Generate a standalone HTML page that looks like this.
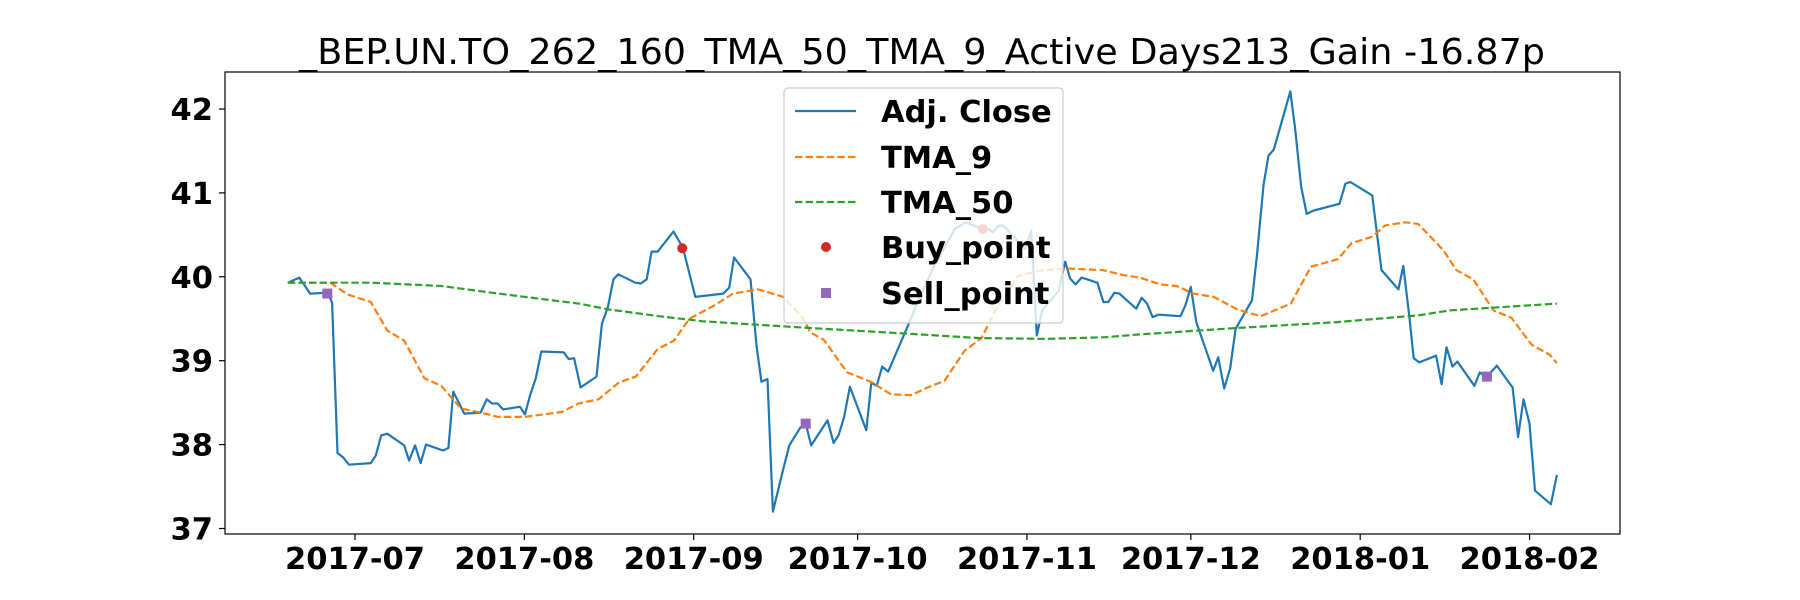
<!DOCTYPE html>
<html><head><meta charset="utf-8"><style>
html,body{margin:0;padding:0;background:#fff;}
svg{display:block;font-family:"DejaVu Sans","Liberation Sans",sans-serif;}
</style></head><body>
<svg id="chart" width="1800" height="600" viewBox="0 0 1800 600" xmlns="http://www.w3.org/2000/svg">
<rect width="1800" height="600" fill="#fff"/>
<text x="922" y="64" font-size="36" text-anchor="middle" textLength="1246" lengthAdjust="spacingAndGlyphs">_BEP.UN.TO_262_160_TMA_50_TMA_9_Active Days213_Gain -16.87p</text>
<g id="plot"></g>
</svg>
<script>
// Day offsets are counted from 2017-07-01
const closeDays = [-12.3,-10.2,-8.2,-5,-4.2,-3.2,-2.2,-1.1,2.9,3.8,4.8,5.9,9.0,9.9,11.0,12.0,13.0,16.1,17.1,18.0,20.0,23.0,24.1,25.1,26.1,27.1,30.2,31.1,32.1,33.1,34.1,38.2,39.1,40.1,41.3,44.2,45.2,46.3,47.3,48.2,51.3,52.3,53.4,54.3,55.4,58.3,60.0,62.3,67.4,68.5,69.4,72.4,73.5,74.4,75.5,76.5,78.4,79.5,81.5,82.5,83.5,86.5,87.6,88.5,89.5,90.6,93.6,94.5,95.5,96.5,97.6,101.5,103,106,109.8,111.8,114.9,115.9,116.8,117.8,118.7,122.7,123.8,124.8,125.8,128.8,130.0,130.9,131.9,133.0,135.9,137.0,137.9,139.0,139.9,143.0,144.0,145.0,146.0,147.1,151.1,152.0,153.0,154.0,157.1,158.0,159.1,160.2,161.2,164.2,165.1,166.3,167.2,168.2,171.2,172.1,173.2,174.2,175.5,180.2,181.3,182.2,186.2,187.9,191.0,191.9,193.0,193.8,194.8,197.9,198.9,199.8,200.9,201.8,204.9,205.9,207.2,209.0,211.9,212.9,213.9,215.0,216.0,218.9,220.0];
const closeVals = [39.93,39.99,39.80,39.81,39.69,37.90,37.85,37.76,37.78,37.87,38.11,38.13,37.99,37.81,37.99,37.78,38.00,37.93,37.96,38.63,38.37,38.38,38.54,38.49,38.49,38.42,38.45,38.36,38.60,38.79,39.11,39.10,39.02,39.03,38.68,38.81,39.44,39.64,39.97,40.03,39.93,39.92,39.97,40.30,40.30,40.54,40.35,39.76,39.80,39.87,40.23,39.97,39.18,38.75,38.78,37.20,37.71,37.99,38.20,38.25,37.99,38.29,38.02,38.11,38.32,38.69,38.17,38.74,38.70,38.93,38.87,39.46,39.70,40.13,40.57,40.65,40.57,40.57,40.53,40.61,40.61,40.33,40.55,39.30,39.60,39.83,40.18,39.98,39.91,39.99,39.93,39.70,39.70,39.81,39.80,39.62,39.75,39.68,39.52,39.55,39.53,39.66,39.88,39.46,38.88,39.04,38.67,38.91,39.38,39.72,40.25,41.09,41.44,41.52,42.21,41.76,41.07,40.75,40.79,40.87,41.11,41.13,40.97,40.08,39.85,40.13,39.52,39.03,38.98,39.06,38.72,39.16,38.93,38.99,38.70,38.86,38.81,38.94,38.68,38.09,38.54,38.25,37.45,37.29,37.64];
const tma9Days = [-12.3,-4.5,-1.4,2.9,5.9,9.0,12.7,15.8,19.4,23.1,26.2,31.1,37.9,40.9,44.6,48.3,51.4,55.4,58.4,61.2,65.8,69.2,73.8,78.4,82.1,83.3,85.8,90.1,94.4,98.1,101.8,104.8,107.9,111.6,114.7,117.7,121.4,125.1,130,136.9,140.6,143.7,147.4,150.4,153.5,157.2,161.5,165.8,171.3,175,179.9,182.4,186.3,188.5,192.2,194.6,199.2,201.6,204.7,208.4,211.7,215.4,218.7,220];
const tma9Vals = [39.93,39.93,39.79,39.70,39.36,39.24,38.79,38.70,38.43,38.38,38.33,38.33,38.39,38.49,38.54,38.74,38.81,39.14,39.24,39.50,39.66,39.80,39.85,39.76,39.50,39.34,39.25,38.86,38.75,38.60,38.59,38.68,38.76,39.12,39.27,39.66,40.01,40.07,40.10,40.08,40.02,39.99,39.91,39.89,39.80,39.76,39.61,39.53,39.68,40.12,40.21,40.40,40.48,40.61,40.65,40.63,40.32,40.08,39.97,39.60,39.51,39.19,39.07,38.97];
const tma50Days = [-12.3,2.9,15.8,25,34.9,41,46.5,55.7,63.7,71,83.3,101.8,114,126.3,137.4,142.9,161.4,179.8,194.6,200.4,220];
const tma50Vals = [39.93,39.93,39.89,39.81,39.73,39.68,39.61,39.53,39.47,39.44,39.39,39.32,39.27,39.26,39.28,39.31,39.39,39.46,39.54,39.60,39.68];
const buyDays = [59.9,114.9];
const buyVals = [40.34,40.57];
const sellDays = [-5.07,82.5,207.2];
const sellVals = [39.80,38.25,38.81];
const yTicks = [37,38,39,40,41,42];
const xTickDays = [0,31,62,92,123,153,184,215];
const xTickLabels = ["2017-07","2017-08","2017-09","2017-10","2017-11","2017-12","2018-01","2018-02"];

const L=225,R=1620,T=72,B=534;
const X = d => 355 + d*5.463;
const Y = v => 109 + (42 - v)*83.9;
const NS="http://www.w3.org/2000/svg";
const g=document.getElementById('plot');
function mk(tag,attrs,parent){const e=document.createElementNS(NS,tag);for(const k in attrs)e.setAttribute(k,attrs[k]);(parent||g).appendChild(e);return e;}
function pts(ds,vs){return ds.map((d,i)=>X(d).toFixed(1)+','+Y(vs[i]).toFixed(1)).join(' ');}

const clip=mk('clipPath',{id:'pc'});mk('rect',{x:L,y:T,width:R-L,height:B-T},clip);
const series=mk('g',{'clip-path':'url(#pc)'});
let e;
e=mk('polyline',{points:pts(closeDays,closeVals),fill:'none',stroke:'#1f77b4','stroke-width':2.2,'stroke-linejoin':'round'},series);


e=mk('polyline',{points:pts(tma9Days,tma9Vals),fill:'none',stroke:'#ff7f0e','stroke-width':2.2,'stroke-dasharray':'7.4,3.2'},series);


e=mk('polyline',{points:pts(tma50Days,tma50Vals),fill:'none',stroke:'#2ca02c','stroke-width':2.2,'stroke-dasharray':'7.4,3.2'},series);


buyDays.forEach((d,i)=>{const c=mk('circle',{cx:X(d),cy:Y(buyVals[i]),r:5,fill:'#d62728'},series);

});
sellDays.forEach((d,i)=>{const s=mk('rect',{x:X(d)-5,y:Y(sellVals[i])-5,width:10,height:10,fill:'#9467bd'},series);

});

e=mk('rect',{x:L,y:T,width:R-L,height:B-T,fill:'none',stroke:'#000','stroke-width':1.2});


yTicks.forEach(v=>{const y=Y(v);mk('line',{x1:L-6,x2:L,y1:y,y2:y,stroke:'#000','stroke-width':1.2});
const t=mk('text',{x:L-12,y:y+11,'font-size':30.5,'font-weight':'bold','text-anchor':'end'});t.textContent=v;

});
xTickDays.forEach((d,i)=>{const x=X(d);mk('line',{x1:x,x2:x,y1:B,y2:B+6,stroke:'#000','stroke-width':1.2});
const t=mk('text',{x:x,y:569,'font-size':30.5,'font-weight':'bold','text-anchor':'middle'});t.textContent=xTickLabels[i];

});

// legend
const lg=mk('g',{});


mk('rect',{x:784,y:88,width:279,height:235,rx:4,fill:'#fff','fill-opacity':0.8,stroke:'#ccc','stroke-width':1.2},lg);
const names=['Adj. Close','TMA_9','TMA_50','Buy_point','Sell_point'];
const ys=[111,157,202,247,293];
names.forEach((n,i)=>{const y=ys[i];
if(i==0)mk('line',{x1:795,x2:856,y1:y,y2:y,stroke:'#1f77b4','stroke-width':2.2},lg);
if(i==1)mk('line',{x1:795,x2:856,y1:y,y2:y,stroke:'#ff7f0e','stroke-width':2.2,'stroke-dasharray':'7.4,3.2'},lg);
if(i==2)mk('line',{x1:795,x2:856,y1:y,y2:y,stroke:'#2ca02c','stroke-width':2.2,'stroke-dasharray':'7.4,3.2'},lg);
if(i==3)mk('circle',{cx:826,cy:y,r:5,fill:'#d62728'},lg);
if(i==4)mk('rect',{x:821,y:y-5,width:10,height:10,fill:'#9467bd'},lg);
const t=mk('text',{x:881,y:y+11,'font-size':30.5,'font-weight':'bold'},lg);t.textContent=n;

});
</script>
</body></html>
